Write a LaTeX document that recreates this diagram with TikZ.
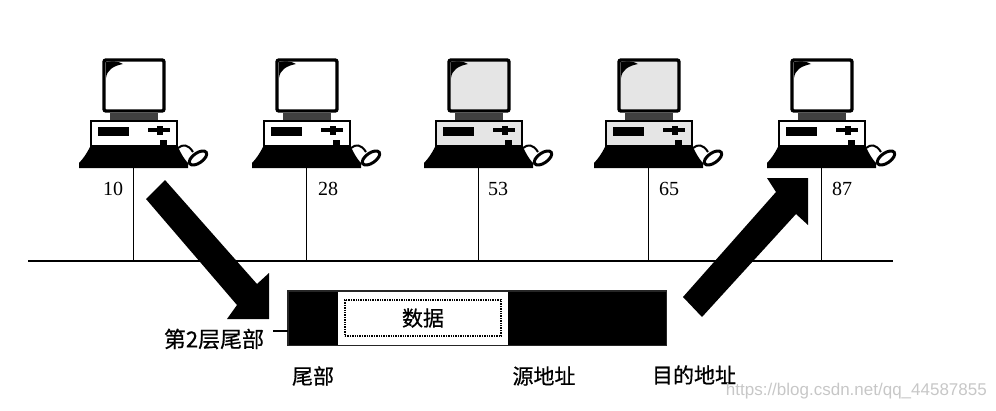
\documentclass[tikz,border=0pt]{standalone}
\usepackage{fontspec}
\setmainfont{Liberation Serif}
\newfontfamily\cjk[FakeBold=0.6]{Noto Sans CJK SC}
\newfontfamily\wmfont{Liberation Sans}
\usetikzlibrary{calc,positioning}
\tikzset{
  addr/.style={font=\fontsize{20}{20}\selectfont,inner sep=0pt},
  cjklabel/.style={font=\cjk\fontsize{21}{21}\selectfont,inner sep=0pt},
  pole/.style={black,line width=1pt},
  bigarrow/.style={fill=black,draw=none},
  pics/computer/.style={code={
    \draw [line width=3.4pt,rounded corners=2pt,fill=#1] (-29,-108) rectangle (31,-57);
    \fill (-27,-106) .. controls (-20,-107) and (-15,-107) .. (-10,-104) .. controls (-20,-102) and (-26,-98) .. (-27,-90) -- cycle;
    \fill [black!75] (-23,-55) rectangle (25,-48);
    \draw [line width=2.4pt,fill=#1] (-42,-47) rectangle (44,-22);
    \fill (-35,-41) rectangle (-4,-32);
    \fill (15,-40) rectangle (37,-36);
    \fill (24,-42) rectangle (30,-33);
    \fill (27,-28) rectangle (34,-21);
    \fill (-43,-21) -- (45,-21) .. controls (48,-14) and (52,-8) .. (55,-5) -- (55,0) -- (-54,0) -- (-54,-5) .. controls (-50,-9) and (-46,-15) .. (-43,-21) -- cycle;
    \draw [line width=2pt] (45,-20) .. controls (50,-24) and (55,-24) .. (60,-16);
    \draw [line width=3pt,fill=white,rotate around={35:(65,-10)}] (65,-10) ellipse (10 and 5);
  }}
}
\begin{document}
\begin{tikzpicture}[x=1pt,y=-1pt]
\useasboundingbox (0,0) rectangle (996,410);
\coordinate (busL) at (28,261);
\coordinate (busR) at (893,261);
\draw [line width=2.2pt] (busL) -- (busR);
% stations
\foreach \addr/\xpos/\lblx/\shade in {10/133/113/white,28/306/328/white,53/478/498/black!10,65/648/669/black!10,87/821/842/white}{
  \pic at (\xpos,168) {computer=\shade};
  \coordinate (base\addr) at (\xpos,168);
  \draw [pole] (base\addr) -- (base\addr |- busL);
  \node [addr] (label\addr) at (\lblx,189) {\addr};
}
% frame
\node [fill=black,minimum width=50pt,minimum height=54pt,inner sep=0pt,anchor=north west] (trailer) at (288,291) {};
\node [fill=white,minimum width=170pt,minimum height=54pt,inner sep=0pt,anchor=north west] (payload) at (338,291) {};
\node [fill=black,minimum width=158pt,minimum height=54pt,inner sep=0pt,anchor=north west] (header) at (508,291) {};
\draw [line width=1.4pt,black!85] (trailer.north west) rectangle (header.south east);
\node [draw,densely dotted,line width=1.4pt,minimum width=156pt,minimum height=36pt,inner sep=0pt,cjklabel] (data) at (423,318) {数据};
\node [cjklabel,font=\cjk\fontsize{22}{22}\selectfont] (frameend) at (214,339) {第2层尾部};
\coordinate (tick) at (273,331);
\draw [line width=1.2pt] (tick) -- (tick -| trailer.west);
\node [cjklabel] (lbltrailer) at (313,376) {尾部};
\node [cjklabel] (lblsrc) at (544,376) {源地址};
\node [cjklabel] (lbldst) at (694,375) {目的地址};
% arrows
\fill [bigarrow] (165,180) -- (257,284) -- (269,273) -- (269,319) -- (227,319) -- (237,305) -- (146,199) -- cycle;
\fill [bigarrow] (683,297) -- (776,192) -- (767,178) -- (808,178) -- (808,225) -- (796,214) -- (702,317) -- cycle;
\node [text=black!22,font=\wmfont\fontsize{17}{17}\selectfont,inner sep=0pt,anchor=east] (mark) at (987,391) {https://blog.csdn.net/qq\_44587855};
\end{tikzpicture}
\end{document}
